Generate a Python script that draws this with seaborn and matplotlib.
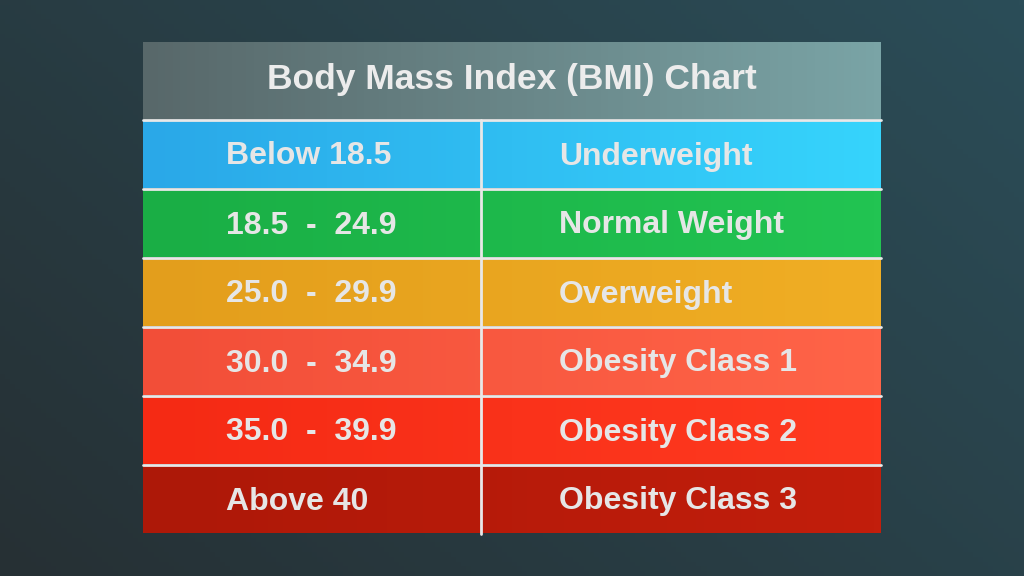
import numpy as np
import matplotlib
matplotlib.use("Agg")
import matplotlib.pyplot as plt
import matplotlib.colors as mc
import seaborn as sns

sns.set_style("white")
plt.rcParams['font.family'] = ['Liberation Sans', 'DejaVu Sans']

title = "Body Mass Index (BMI) Chart"
ranges = ["Below 18.5", "18.5  -  24.9", "25.0  -  29.9", "30.0  -  34.9", "35.0  -  39.9", "Above 40"]
categories = ["Underweight", "Normal Weight", "Overweight", "Obesity Class 1", "Obesity Class 2", "Obesity Class 3"]
row_colors = [("#2aa8e8", "#36d4fc"), ("#1aae45", "#22c452"), ("#e39e1c", "#f0ae24"),
              ("#f24e38", "#ff6448"), ("#f52a14", "#ff3a20"), ("#ad1808", "#c21e0c")]

W, H = 1024, 576
fig = plt.figure(figsize=(10.24, 5.76), dpi=100)
ax = fig.add_axes([0, 0, 1, 1])
ax.set_xlim(0, W); ax.set_ylim(H, 0); ax.axis("off")

xx, yy = np.meshgrid(np.linspace(0, 1, 200), np.linspace(0, 1, 120))
t = np.clip(0.6 * xx + 0.4 * (1 - yy), 0, 1)
c0 = np.array(mc.to_rgb("#263034")); c1 = np.array(mc.to_rgb("#2b4d58"))
bg = c0[None, None, :] * (1 - t[..., None]) + c1[None, None, :] * t[..., None]
ax.imshow(bg, extent=(0, W, H, 0), aspect="auto", zorder=0)

def grad(x0, x1, y0, y1, ca, cb):
    a = np.array(mc.to_rgb(ca)); b = np.array(mc.to_rgb(cb))
    g = np.linspace(0, 1, 100)
    img = (a[None, :] * (1 - g[:, None]) + b[None, :] * g[:, None])[None, :, :]
    ax.imshow(img, extent=(x0, x1, y1, y0), aspect="auto", zorder=1)

L, R, MID = 143, 881, 481
grad(L, R, 42, 119, "#58686a", "#7aa4a6")
ax.text((L + R) / 2, 80, title, ha="center", va="center", fontsize=25.5, fontweight="bold", color="#ececec", zorder=3)

top = 120; h = 69
for i, (rg, cat, (ca, cb)) in enumerate(zip(ranges, categories, row_colors)):
    y0 = top + i * h
    grad(L, R, y0, y0 + h - 1, ca, cb)
    yc = y0 + h / 2 + 2
    ax.text(226, yc, rg, ha="left", va="center", fontsize=23, fontweight="bold", color="#e6e6e6", zorder=3)
    ax.text(559, yc, cat, ha="left", va="center", fontsize=23, fontweight="bold", color="#e6e6e6", zorder=3)
    ax.plot([L, R], [y0, y0], color="#e8e8e8", lw=2, zorder=2)
ax.plot([MID, MID], [top, top + 6 * h], color="#e8e8e8", lw=2, zorder=2)

fig.savefig("out.png", dpi=100)
